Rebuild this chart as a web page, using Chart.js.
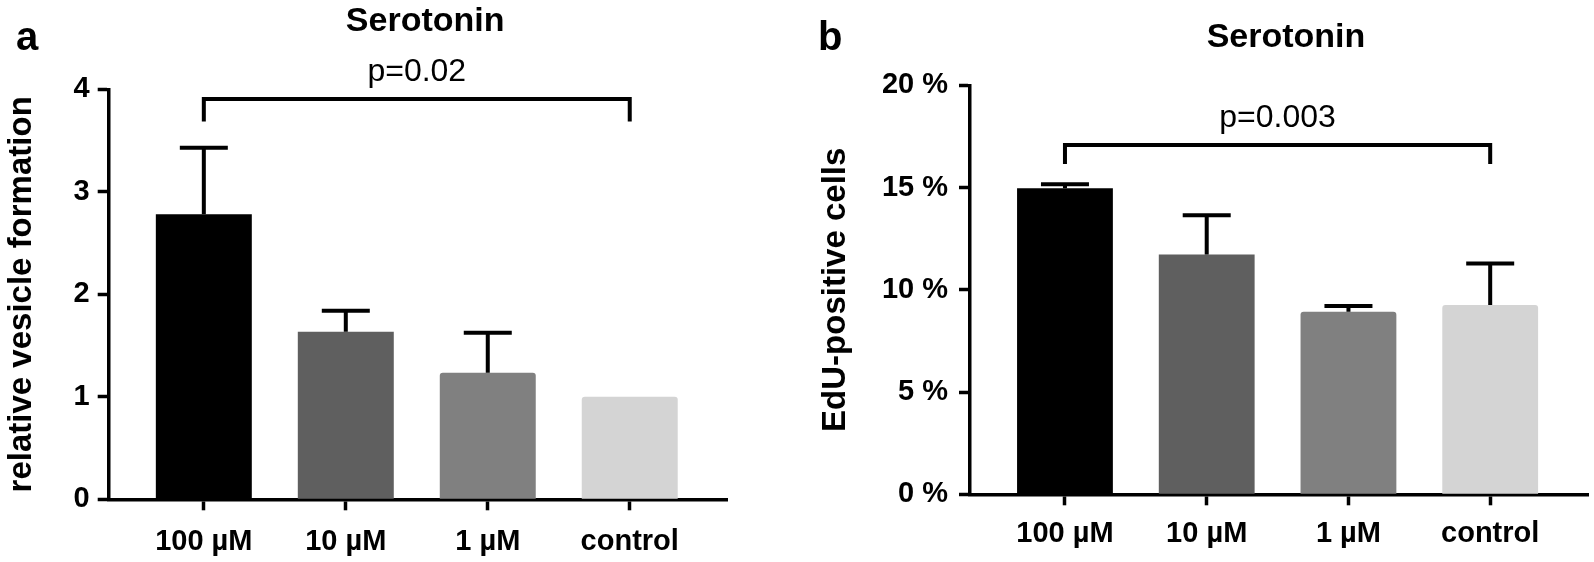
<!DOCTYPE html>
<html>
<head>
<meta charset="utf-8">
<script src="https://cdn.jsdelivr.net/npm/chart.js@4.4.1/dist/chart.umd.min.js"></script>
<style>
  html, body { margin: 0; padding: 0; background: #fff; }
  #wrap { position: relative; width: 1594px; height: 562px; }
  canvas { position: absolute; top: 0; }
  #chartA { left: 0; }
  #chartB { left: 797px; }
</style>
</head>
<body>
<div id="wrap">
  <canvas id="chartA" width="797" height="562"></canvas>
  <canvas id="chartB" width="797" height="562"></canvas>
</div>
<script>
var categories = ["100 µM", "10 µM", "1 µM", "control"];
var barColors = ["#000000", "#5f5f5f", "#808080", "#d4d4d4"];

// panel a: relative vesicle formation, mean + SEM
var vesicleMean = [2.78, 1.635, 1.235, 1.0];
var vesicleSem = [0.65, 0.205, 0.39, 0];
var vesicleTicks = [0, 1, 2, 3, 4];
var vesicleBracket = [3.905, 3.685]; // top line, feet

// panel b: EdU-positive cells (%), mean + SEM
var eduMean = [14.96, 11.73, 8.93, 9.26];
var eduSem = [0.2, 1.91, 0.28, 2.03];
var eduTicks = [0, 5, 10, 15, 20];
var eduBracket = [17.08, 16.15];

Chart.defaults.font.family = '"Liberation Sans", Arial, sans-serif';
Chart.defaults.color = "#000";

// error bars (upper only), significance bracket, titles
var annotate = {
  id: "annotate",
  afterDatasetsDraw: function (chart, args, o) {
    var ctx = chart.ctx;
    var xs = chart.scales.x;
    var ys = chart.scales.y;
    var area = chart.chartArea;
    ctx.save();
    ctx.strokeStyle = "#000";
    ctx.lineWidth = 4;
    ctx.lineJoin = "miter";
    o.mean.forEach(function (m, i) {
      if (!o.sem[i]) return;
      var x = xs.getPixelForValue(i);
      var y0 = ys.getPixelForValue(m);
      var y1 = ys.getPixelForValue(m + o.sem[i]);
      ctx.beginPath();
      ctx.moveTo(x, y0);
      ctx.lineTo(x, y1);
      ctx.moveTo(x - 24, y1);
      ctx.lineTo(x + 24, y1);
      ctx.stroke();
    });

    var xa = xs.getPixelForValue(0);
    var xb = xs.getPixelForValue(o.mean.length - 1);
    var yt = ys.getPixelForValue(o.bracket[0]);
    var yf = ys.getPixelForValue(o.bracket[1]);
    ctx.beginPath();
    ctx.moveTo(xa, yf);
    ctx.lineTo(xa, yt);
    ctx.lineTo(xb, yt);
    ctx.lineTo(xb, yf);
    ctx.stroke();

    ctx.fillStyle = "#000";
    ctx.textAlign = "center";
    ctx.textBaseline = "alphabetic";
    ctx.font = '32px "Liberation Sans"';
    ctx.fillText(o.pText, (xa + xb) / 2, yt - 18);
    ctx.font = 'bold 34px "Liberation Sans"';
    ctx.fillText(o.title, (area.left + area.right) / 2 + 7, o.titleY);
    ctx.textAlign = "left";
    ctx.font = 'bold 40px "Liberation Sans"';
    ctx.fillText(o.letter, o.letterX, 50);
    ctx.restore();
  }
};

function makeChart(id, p) {
  var axisLine = { color: "#000", width: 3.5 };
  var tickMarks = { drawOnChartArea: false, offset: false, tickLength: 11, tickWidth: 3.5, tickColor: "#000" };
  return new Chart(document.getElementById(id), {
    type: "bar",
    data: {
      datasets: [{
        data: p.mean.map(function (v, i) { return { x: i, y: v }; }),
        backgroundColor: barColors,
        borderRadius: function (c) { return c.dataIndex > 1 ? 3 : 0; },
        borderSkipped: "bottom",
        barPercentage: 0.676,
        categoryPercentage: 1
      }]
    },
    options: {
      responsive: false,
      devicePixelRatio: 1,
      animation: false,
      layout: { padding: { top: p.top, right: p.right, left: 0, bottom: 0 } },
      plugins: {
        legend: { display: false },
        tooltip: { enabled: false },
        annotate: {
          mean: p.mean, sem: p.sem, bracket: p.bracket, pText: p.pText,
          title: "Serotonin", titleY: p.titleY, letter: p.letter, letterX: p.letterX
        }
      },
      scales: {
        x: {
          type: "linear",
          min: -0.67,
          max: 3.69,
          offset: false,
          afterBuildTicks: function (s) {
            s.ticks = categories.map(function (c, i) { return { value: i }; });
          },
          afterFit: function (s) { s.height = p.xHeight; },
          ticks: {
            callback: function (v) { return categories[v]; },
            autoSkip: false,
            maxRotation: 0,
            padding: p.xPad,
            font: { size: 29, weight: "bold" }
          },
          grid: tickMarks,
          border: axisLine
        },
        y: {
          min: 0,
          max: p.ticks[p.ticks.length - 1],
          afterBuildTicks: function (s) {
            s.ticks = p.ticks.map(function (v) { return { value: v }; });
          },
          afterFit: function (s) { s.width = p.yWidth; },
          ticks: {
            callback: p.fmt,
            padding: p.yPad,
            font: { size: 29, weight: "bold" }
          },
          grid: tickMarks,
          border: axisLine,
          title: {
            display: true,
            text: p.yTitle,
            font: { size: 33, weight: "bold" },
            padding: { top: p.titlePad, bottom: 0 }
          }
        }
      }
    },
    plugins: [annotate]
  });
}

makeChart("chartA", {
  mean: vesicleMean, sem: vesicleSem, ticks: vesicleTicks, bracket: vesicleBracket,
  pText: "p=0.02", yTitle: "relative vesicle formation",
  fmt: function (v) { return v; },
  top: 89.3, right: 69.3, xHeight: 62.7, yWidth: 108.7,
  xPad: 14, yPad: 8, titlePad: 2, titleY: 31, letter: "a", letterX: 16
});

makeChart("chartB", {
  mean: eduMean, sem: eduSem, ticks: eduTicks, bracket: eduBracket,
  pText: "p=0.003", yTitle: "EdU-positive cells",
  fmt: function (v) { return v + " %"; },
  top: 85.3, right: 6, xHeight: 67.7, yWidth: 173,
  xPad: 11, yPad: 11, titlePad: 19, titleY: 47, letter: "b", letterX: 21
});
</script>
</body>
</html>
